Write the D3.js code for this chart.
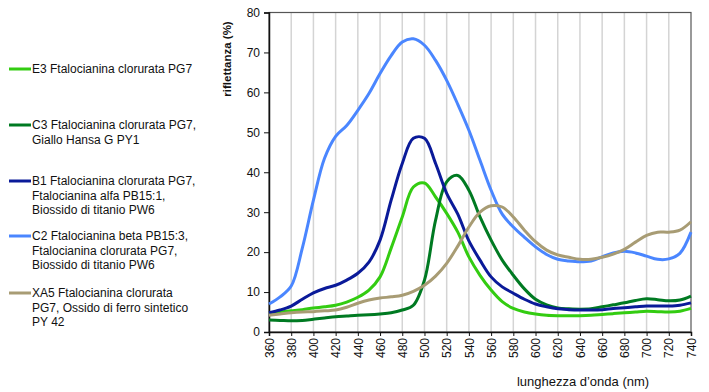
<!DOCTYPE html>
<html>
<head>
<meta charset="utf-8">
<script src="https://cdn.jsdelivr.net/npm/d3@7/dist/d3.min.js"></script>
<style>
  body { margin: 0; background: #fff; }
  text { font-family: Arial, "Liberation Sans", sans-serif; }
</style>
</head>
<body>
<div id="chart"></div>
<script>
// lunghezza d'onda (nm), passo 10
const wavelengths = d3.range(360, 741, 10);
const xTicks = d3.range(360, 741, 20);
const yTicks = [0, 10, 20, 30, 40, 50, 60, 70, 80];

const e3 = [4.7, 5.0, 5.3, 5.6, 6.0, 6.3, 6.7, 7.5, 8.7, 10.5, 13.8, 21, 28.8, 36.3, 37.3, 33.8, 29.7, 25, 18.8, 14.2,
  10.5, 7.6, 5.9, 5.0, 4.5, 4.2, 4.1, 4.1, 4.1, 4.2, 4.4, 4.6, 4.8, 5.0, 5.2, 5.1, 5.0, 5.2, 5.9];
const c3 = [3.0, 2.9, 2.8, 2.9, 3.2, 3.5, 3.8, 4.0, 4.2, 4.3, 4.5, 4.8, 5.5, 6.7, 13, 28, 37.6, 39.2, 35.5, 28.8,
  23, 18, 14.2, 10.8, 8.2, 6.8, 6.0, 5.8, 5.7, 5.8, 6.3, 6.8, 7.3, 7.9, 8.3, 8.1, 7.8, 8.0, 9.0];
const b1 = [4.8, 5.5, 6.5, 8.2, 9.8, 10.9, 11.7, 13, 14.7, 17.5, 23, 33, 42.2, 48.5, 48.5, 42.2, 34.7, 29.5, 22.8, 18,
  13.8, 11.3, 9.7, 8.2, 7.0, 6.3, 5.8, 5.6, 5.5, 5.5, 5.6, 5.9, 6.1, 6.3, 6.5, 6.5, 6.5, 6.7, 7.3];
const c2 = [7.0, 8.8, 11.5, 21, 33, 43.5, 49, 51.7, 55.5, 59.7, 64.7, 69.2, 72.6, 73.4, 71.8, 68, 63, 57, 50.5, 43,
  35.5, 29.5, 26.3, 23.7, 21.3, 19.4, 18.2, 17.8, 17.6, 17.8, 18.8, 19.8, 20.2, 19.8, 19.0, 18.2, 18.3, 19.7, 25];
const xa5 = [4.2, 4.5, 4.8, 5.0, 5.1, 5.3, 5.5, 6.2, 7.2, 8.0, 8.5, 8.8, 9.2, 10.2, 11.7, 14, 17.2, 21.5, 26.3, 30,
  31.6, 31.3, 28.8, 25.5, 22.6, 20.5, 19.3, 18.7, 18.2, 18.2, 18.7, 19.5, 20.7, 22.5, 24.2, 25, 25, 25.5, 27.6];

const series = [
  { name: ["E3 Ftalocianina clorurata PG7"], values: e3, color: "#33cc11" },
  { name: ["C3 Ftalocianina clorurata PG7,", "Giallo Hansa G PY1"], values: c3, color: "#007a22" },
  { name: ["B1 Ftalocianina clorurata PG7,", "Ftalocianina alfa PB15:1,", "Biossido di titanio PW6"], values: b1, color: "#0a1a99" },
  { name: ["C2 Ftalocianina beta PB15:3,", "Ftalocianina clorurata PG7,", "Biossido di titanio PW6"], values: c2, color: "#4a86ff" },
  { name: ["XA5 Ftalocianina clorurata", "PG7, Ossido di ferro sintetico", "PY 42"], values: xa5, color: "#a89c74" }
];

const W = 709, H = 392;
const plot = { left: 269, right: 691, top: 12.5, bottom: 332 };

const svg = d3.select("#chart").append("svg")
  .attr("width", W)
  .attr("height", H);

const x = d3.scaleLinear().domain([360, 740]).range([plot.left, plot.right]);
const y = d3.scaleLinear().domain([0, 80]).range([plot.bottom, plot.top]);

// griglia verticale
svg.append("g")
  .selectAll("line")
  .data(xTicks.slice(1, -1))
  .enter()
  .append("line")
  .attr("x1", d => x(d)).attr("x2", d => x(d))
  .attr("y1", plot.top).attr("y2", plot.bottom)
  .attr("stroke", "#d4d4d4")
  .attr("stroke-width", 1.5);

// cornice
svg.append("rect")
  .attr("x", plot.left).attr("y", plot.top)
  .attr("width", plot.right - plot.left)
  .attr("height", plot.bottom - plot.top)
  .attr("fill", "none")
  .attr("stroke", "#555")
  .attr("stroke-width", 1.2);

// assi
const yAxis = svg.append("g")
  .attr("transform", `translate(${plot.left},0)`)
  .call(d3.axisLeft(y).tickValues(yTicks).tickSize(5).tickPadding(4));
yAxis.select(".domain").attr("stroke", "#111").attr("stroke-width", 1.5);
yAxis.selectAll(".tick line").attr("stroke", "#111");
yAxis.selectAll("text").attr("font-size", 12).attr("fill", "#111");

const xAxis = svg.append("g")
  .attr("transform", `translate(0,${plot.bottom})`)
  .call(d3.axisBottom(x).tickValues(xTicks).tickSize(4).tickFormat(d3.format("d")));
xAxis.select(".domain").attr("stroke", "#111").attr("stroke-width", 1.5);
xAxis.selectAll(".tick line").attr("stroke", "#111");
xAxis.selectAll("text")
  .attr("font-size", 12)
  .attr("fill", "#111")
  .attr("transform", "rotate(-90)")
  .attr("text-anchor", "end")
  .attr("x", -6)
  .attr("y", 0)
  .attr("dy", "0.35em");

// titoli assi
svg.append("text")
  .text("riflettanza (%)")
  .attr("transform", "translate(231,59) rotate(-90)")
  .attr("text-anchor", "middle")
  .attr("font-size", 11.5)
  .attr("font-weight", "bold")
  .attr("fill", "#111");

svg.append("text")
  .text("lunghezza d\u2019onda (nm)")
  .attr("x", 583).attr("y", 386)
  .attr("text-anchor", "middle")
  .attr("font-size", 13)
  .attr("fill", "#111");

// curve
const line = d3.line()
  .x((d, i) => x(wavelengths[i]))
  .y(d => y(d))
  .curve(d3.curveCatmullRom.alpha(0.5));

svg.append("g")
  .selectAll("path")
  .data(series)
  .enter()
  .append("path")
  .attr("d", d => line(d.values))
  .attr("fill", "none")
  .attr("stroke", d => d.color)
  .attr("stroke-width", 3)
  .attr("stroke-linejoin", "round");

// legenda
const legendY = [69, 125, 181, 236, 293];
const legend = svg.append("g")
  .selectAll("g")
  .data(series)
  .enter()
  .append("g")
  .attr("transform", (d, i) => `translate(0,${legendY[i]})`);

legend.append("line")
  .attr("x1", 9).attr("x2", 31)
  .attr("y1", 0).attr("y2", 0)
  .attr("stroke", d => d.color)
  .attr("stroke-width", 3);

legend.append("text")
  .attr("font-size", 12)
  .attr("fill", "#111")
  .selectAll("tspan")
  .data(d => d.name)
  .enter()
  .append("tspan")
  .attr("x", 32)
  .attr("y", (d, i) => i * 14.2)
  .attr("dy", "0.36em")
  .text(d => d);
</script>
</body>
</html>
